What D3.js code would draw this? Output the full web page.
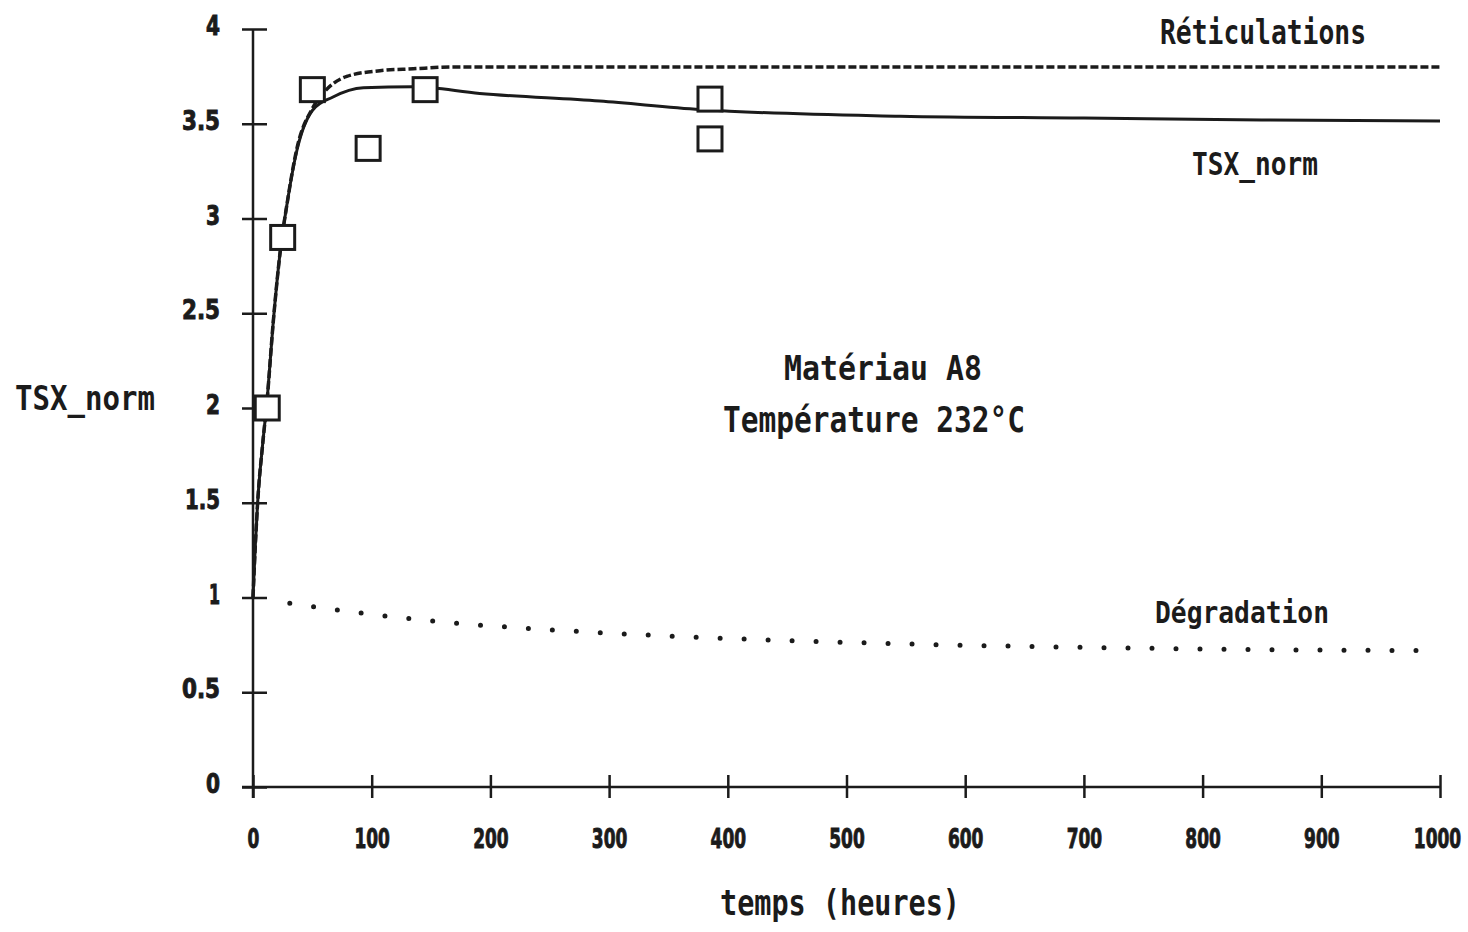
<!DOCTYPE html>
<html>
<head>
<meta charset="utf-8">
<script src="https://cdn.jsdelivr.net/npm/d3@7"></script>
<style>
  html, body { margin: 0; padding: 0; background: #fff; }
  svg { display: block; }
  .lbl { font-family: "DejaVu Sans Mono", monospace; font-weight: bold; fill: #1b1b1b; }
  .tick text { font-family: "DejaVu Sans Condensed", "DejaVu Sans", sans-serif; font-weight: bold; fill: #1b1b1b; stroke: #1b1b1b; stroke-width: 0.9px; }
</style>
</head>
<body>
<svg id="chart" width="1468" height="932"></svg>
<script>
// ---- data ----
const xTicks = [0, 100, 200, 300, 400, 500, 600, 700, 800, 900, 1000];
const xTickLabels = ["0", "100", "200", "300", "400", "500", "600", "700", "800", "900", "1000"];
const yTicks = [0, 0.5, 1, 1.5, 2, 2.5, 3, 3.5, 4];
const yTickLabels = ["0", "0.5", "1", "1.5", "2", "2.5", "3", "3.5", "4"];

// measured points (squares)
const obsTime  = [12, 25, 50, 97, 145, 385, 385];
const obsValue = [2.0, 2.9, 3.68, 3.37, 3.68, 3.63, 3.42];

// TSX_norm model curve (solid)
const tsxTime  = [0, 2, 4, 8, 12, 17, 23, 29, 37, 50, 67, 93, 135, 191, 292, 377, 545, 700, 850, 1000];
const tsxValue = [1.0, 1.28, 1.51, 1.8, 2.05, 2.45, 2.83, 3.09, 3.36, 3.57, 3.64, 3.69, 3.695, 3.66, 3.62, 3.575, 3.54, 3.53, 3.52, 3.515];

// Réticulations curve (dashed)
const retTime  = [0, 2, 4, 8, 12, 17, 23, 29, 37, 50, 59, 79, 107, 135, 170, 300, 1000];
const retValue = [1.0, 1.28, 1.51, 1.8, 2.05, 2.45, 2.83, 3.09, 3.37, 3.58, 3.66, 3.75, 3.78, 3.79, 3.80, 3.80, 3.80];

// Dégradation curve (dotted)
const degTime  = [31, 92, 172, 250, 395, 550, 700, 850, 983];
const degValue = [0.97, 0.917, 0.864, 0.83, 0.785, 0.755, 0.737, 0.725, 0.72];

// ---- drawing ----
const svg = d3.select("#chart");
const ink = "#1b1b1b";

const x = d3.scaleLinear().domain([0, 1000]).range([253, 1440]);
const y = d3.scaleLinear().domain([0, 4]).range([787, 29]);

// axis lines
svg.append("line").attr("x1", x(0)).attr("x2", x(0)).attr("y1", y(4)).attr("y2", y(0) + 11)
  .attr("stroke", ink).attr("stroke-width", 2.5);
svg.append("line").attr("x1", x(0) - 11).attr("x2", x(1000)).attr("y1", y(0)).attr("y2", y(0))
  .attr("stroke", ink).attr("stroke-width", 2.5);

// y axis
const yAxis = svg.append("g").attr("transform", `translate(${x(0)},0)`)
  .call(d3.axisLeft(y).tickValues(yTicks).tickFormat((d, i) => yTickLabels[i]).tickSize(11).tickPadding(0));
yAxis.select(".domain").remove();
yAxis.selectAll(".tick line").attr("x1", -11).attr("x2", 14).attr("stroke", ink).attr("stroke-width", 2.5);
yAxis.selectAll(".tick text")
  .attr("x", -33).attr("y", 5.5).attr("dy", null)
  .attr("font-size", 26)
  .attr("text-anchor", "end")
  .attr("textLength", d => { const s = yTickLabels[yTicks.indexOf(d)]; let w = 0; for (const c of s) w += (c === "." ? 10 : (c === "1" ? 11 : 14)); return w; })
  .attr("lengthAdjust", "spacingAndGlyphs");

// x axis
const xAxis = svg.append("g").attr("transform", `translate(0,${y(0)})`)
  .call(d3.axisBottom(x).tickValues(xTicks).tickFormat((d, i) => xTickLabels[i]).tickSize(11).tickPadding(0));
xAxis.select(".domain").remove();
xAxis.selectAll(".tick line").attr("y1", -12).attr("y2", 11).attr("stroke", ink).attr("stroke-width", 2.5);
xAxis.selectAll(".tick text")
  .attr("x", 0).attr("y", 0).attr("dy", null)
  .attr("transform", d => `translate(${d === 1000 ? -3 : 0},61) scale(0.7,1)`)
  .attr("font-size", 27)
  .attr("text-anchor", "middle");

// curves
const line = d3.line().x(d => x(d[0])).y(d => y(d[1])).curve(d3.curveMonotoneX);

svg.append("path").datum(d3.zip(retTime, retValue)).attr("d", line)
  .attr("fill", "none").attr("stroke", ink).attr("stroke-width", 3.5).attr("stroke-dasharray", "8 3");

svg.append("path").datum(d3.zip(tsxTime, tsxValue)).attr("d", line)
  .attr("fill", "none").attr("stroke", ink).attr("stroke-width", 3);

svg.append("path").datum(d3.zip(degTime, degValue)).attr("d", line)
  .attr("fill", "none").attr("stroke", ink).attr("stroke-width", 5)
  .attr("stroke-linecap", "round").attr("stroke-dasharray", "0 24");

// squares
const sq = 24;
svg.append("g").selectAll("rect").data(d3.zip(obsTime, obsValue)).join("rect")
  .attr("x", d => x(d[0]) - sq / 2).attr("y", d => y(d[1]) - sq / 2)
  .attr("width", sq).attr("height", sq)
  .attr("fill", "#fff").attr("stroke", ink).attr("stroke-width", 3);

// labels
function label(txt, cx, baseline, size, width, anchor) {
  svg.append("text").attr("class", "lbl")
    .attr("x", cx).attr("y", baseline)
    .attr("font-size", size)
    .attr("text-anchor", anchor || "start")
    .attr("textLength", width).attr("lengthAdjust", "spacingAndGlyphs")
    .text(txt);
}
label("Réticulations", 1160, 44, 34, 206);
label("TSX_norm", 1192, 175, 32, 126);
label("Dégradation", 1155, 623, 31, 174);
label("Matériau A8", 784, 380, 34, 198);
label("Température 232°C", 723, 432, 35, 302);
label("TSX_norm", 15, 410, 34, 140);
label("temps  (heures)", 720, 915, 36, 240);
</script>
</body>
</html>
